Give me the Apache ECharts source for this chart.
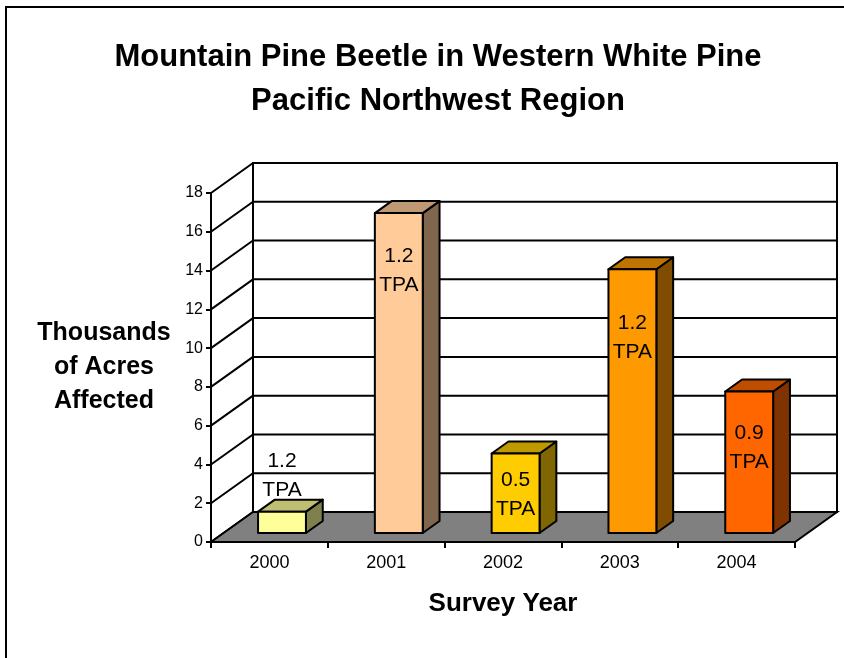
<!DOCTYPE html>
<html>
<head>
<meta charset="utf-8">
<title>Mountain Pine Beetle in Western White Pine</title>
<script src="https://cdn.jsdelivr.net/npm/echarts@6/dist/echarts.min.js"></script>
<style>
  html, body { margin: 0; padding: 0; background: #ffffff; }
  #chart { width: 844px; height: 658px; }
</style>
</head>
<body>
<div id="chart"></div>
<script>
// Survey years and area affected (thousands of acres)
const years = ['2000', '2001', '2002', '2003', '2004'];
const acresThousands = [1.1, 16.5, 4.1, 13.6, 7.3];
// Trees-per-acre annotation for each survey year
const tpaValues = ['1.2', '1.2', '0.5', '1.2', '0.9'];
// Value axis ticks
const valueTicks = [0, 2, 4, 6, 8, 10, 12, 14, 16, 18];

// Bar face colours: front, top, side
const frontColors = ['#FFFF99', '#FFCC99', '#FFCC00', '#FF9900', '#FF6600'];
const topColors   = ['#BFBF73', '#BF9973', '#BF9900', '#BF7300', '#BF4D00'];
const sideColors  = ['#80804D', '#80664D', '#806600', '#804D00', '#803300'];
// Vertical placement of each TPA note relative to the bar's top edge (px)
const noteOffset = [-50, 43, 27, 54, 42];

// Oblique depth of the plot box in pixels
const DEPTH_X = 42;
const DEPTH_Y = -30;
const LINE = 2;
const FONT = '"Liberation Sans", Arial, sans-serif';

const chart = echarts.init(document.getElementById('chart'), null, { renderer: 'canvas' });

function renderFrame(params, api) {
  const n = years.length;
  const band = api.size([1, 0])[0];
  const first = api.coord([0, 0]);
  const last = api.coord([n - 1, 0]);
  const x0 = first[0] - band / 2;
  const x1 = last[0] + band / 2;
  const y0 = first[1];
  const yTop = api.coord([0, valueTicks[valueTicks.length - 1]])[1];
  const children = [];
  // back wall
  children.push({
    type: 'polygon',
    shape: { points: [[x0 + DEPTH_X, yTop + DEPTH_Y], [x1 + DEPTH_X, yTop + DEPTH_Y],
                      [x1 + DEPTH_X, y0 + DEPTH_Y], [x0 + DEPTH_X, y0 + DEPTH_Y]] },
    style: { fill: '#ffffff', stroke: '#000000', lineWidth: LINE }
  });
  // gridlines on the back wall and the side wall
  valueTicks.forEach(function (t) {
    const y = api.coord([0, t])[1];
    children.push({
      type: 'line',
      shape: { x1: x0 + DEPTH_X, y1: y + DEPTH_Y, x2: x1 + DEPTH_X, y2: y + DEPTH_Y },
      style: { stroke: '#000000', lineWidth: LINE }
    });
    children.push({
      type: 'line',
      shape: { x1: x0, y1: y, x2: x0 + DEPTH_X, y2: y + DEPTH_Y },
      style: { stroke: '#000000', lineWidth: LINE }
    });
  });
  // floor
  children.push({
    type: 'polygon',
    shape: { points: [[x0, y0], [x1, y0], [x1 + DEPTH_X, y0 + DEPTH_Y], [x0 + DEPTH_X, y0 + DEPTH_Y]] },
    style: { fill: '#808080', stroke: '#000000', lineWidth: LINE }
  });
  return { type: 'group', children: children };
}

function renderBar(params, api) {
  const i = api.value(0);
  const v = api.value(1);
  const band = api.size([1, 0])[0];
  const base = api.coord([i, 0]);
  const top = api.coord([i, v]);
  const f0 = 0.3, f1 = 0.7;
  const ox = DEPTH_X * f0, oy = DEPTH_Y * f0;
  const bx = DEPTH_X * (f1 - f0), by = DEPTH_Y * (f1 - f0);
  const w = band * 0.41;
  const xl = base[0] + ox - w / 2;
  const xr = xl + w;
  const yb = base[1] + oy;
  const yt = top[1] + oy;
  const edge = { stroke: '#000000', lineWidth: LINE, lineJoin: 'round' };
  return {
    type: 'group',
    children: [
      {
        type: 'polygon',
        shape: { points: [[xr, yt], [xr + bx, yt + by], [xr + bx, yb + by], [xr, yb]] },
        style: Object.assign({ fill: sideColors[i] }, edge)
      },
      {
        type: 'polygon',
        shape: { points: [[xl, yt], [xr, yt], [xr + bx, yt + by], [xl + bx, yt + by]] },
        style: Object.assign({ fill: topColors[i] }, edge)
      },
      {
        type: 'rect',
        shape: { x: xl, y: yt, width: w, height: yb - yt },
        style: Object.assign({ fill: frontColors[i] }, edge)
      },
      {
        type: 'text',
        style: {
          text: tpaValues[i] + '\nTPA',
          x: (xl + xr) / 2,
          y: yt + noteOffset[i] - 14.5,
          align: 'center',
          verticalAlign: 'top',
          lineHeight: 29,
          font: '21px ' + FONT,
          fill: '#000000'
        }
      }
    ]
  };
}

const option = {
  animation: false,
  backgroundColor: '#ffffff',
  textStyle: { fontFamily: FONT },
  title: {
    text: 'Mountain Pine Beetle in Western White Pine\nPacific Northwest Region',
    left: 433,
    top: 30,
    textAlign: 'center',
    textStyle: { fontSize: 31, fontWeight: 'bold', lineHeight: 44, color: '#000000', fontFamily: FONT }
  },
  graphic: [{
    type: 'rect',
    shape: { x: 6, y: 7, width: 900, height: 800 },
    style: { fill: 'none', stroke: '#000000', lineWidth: 2 },
    silent: true
  }],
  grid: { left: 211, right: 49, top: 193, bottom: 116 },
  xAxis: {
    type: 'category',
    data: years,
    name: 'Survey Year',
    nameLocation: 'middle',
    nameGap: 49,
    nameTextStyle: { fontSize: 26, fontWeight: 'bold', color: '#000000', fontFamily: FONT },
    axisLine: { show: true, lineStyle: { color: '#000000', width: LINE } },
    axisTick: { show: true, length: 6, lineStyle: { color: '#000000', width: LINE } },
    axisLabel: { fontSize: 18, color: '#000000', margin: 12, fontFamily: FONT },
    splitLine: { show: false }
  },
  yAxis: {
    type: 'value',
    min: valueTicks[0],
    max: valueTicks[valueTicks.length - 1],
    interval: valueTicks[1] - valueTicks[0],
    name: 'Thousands\nof Acres\nAffected',
    nameLocation: 'middle',
    nameRotate: 0,
    nameGap: 107,
    nameTextStyle: { fontSize: 25, fontWeight: 'bold', color: '#000000', lineHeight: 34,
                     align: 'center', verticalAlign: 'middle', fontFamily: FONT },
    axisLine: { show: true, lineStyle: { color: '#000000', width: LINE } },
    axisTick: { show: true, length: 5, lineStyle: { color: '#000000', width: LINE } },
    axisLabel: { fontSize: 16, color: '#000000', margin: 8, fontFamily: FONT },
    splitLine: { show: false }
  },
  series: [
    {
      type: 'custom',
      name: 'frame',
      z: 1,
      silent: true,
      renderItem: renderFrame,
      data: [[0, 0]]
    },
    {
      type: 'custom',
      name: 'Thousands of Acres Affected',
      z: 3,
      renderItem: renderBar,
      encode: { x: 0, y: 1 },
      data: years.map(function (y, i) { return [i, acresThousands[i]]; })
    }
  ]
};

chart.setOption(option);
</script>
</body>
</html>
